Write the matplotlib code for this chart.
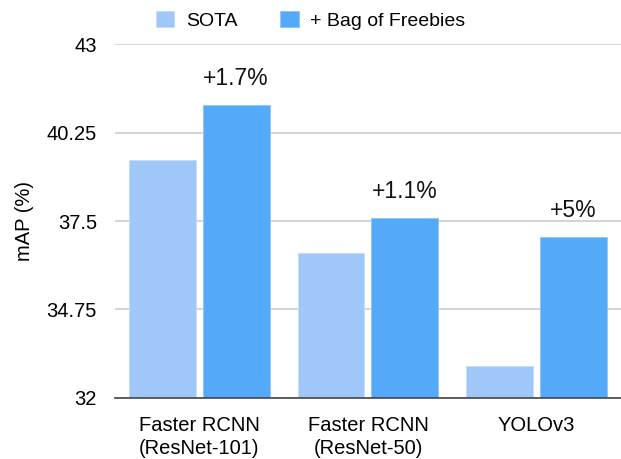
import matplotlib.pyplot as plt
import numpy as np

# Data
models = ["Faster RCNN\n(ResNet-101)", "Faster RCNN\n(ResNet-50)", "YOLOv3"]
sota = [39.4, 36.5, 33.0]
bof = [41.1, 37.6, 37.0]
gains = ["+1.7%", "+1.1%", "+5%"]
yticks = [32, 34.75, 37.5, 40.25, 43]

plt.rcParams['font.family'] = ['Liberation Sans', 'DejaVu Sans']

fig = plt.figure(figsize=(6.21, 4.59), dpi=100)
ax = fig.add_axes([0.185, 0.133, 0.815, 0.771])

x = np.arange(len(models))
w = 0.396
off = 0.219
ax.bar(x - off, np.array(sota) - 32, w, bottom=32, color='#9fc8f9',
       edgecolor='#c4ddfb', linewidth=0.6, label='SOTA', zorder=3)
ax.bar(x + off, np.array(bof) - 32, w, bottom=32, color='#55a9f9',
       edgecolor='#8cc4fb', linewidth=0.6, label='+ Bag of Freebies', zorder=3)

for xi, val, txt in zip(x, bof, gains):
    ax.annotate(txt, (xi + off, val), xytext=(0, 11), textcoords='offset points',
                ha='center', va='bottom', fontsize=16.5, color='#111111')

ax.set_xlim(-0.5, 2.5)
ax.set_ylim(32, 43)
ax.set_yticks(yticks)
ax.set_yticklabels(["32", "34.75", "37.5", "40.25", "43"])
ax.set_xticks(x)
ax.set_xticklabels(models, fontsize=14.5, linespacing=1.25)
ax.tick_params(axis='y', length=0, pad=13, labelsize=14.5)
ax.tick_params(axis='x', length=0, pad=13)
ax.grid(axis='y', color='#cccccc', linewidth=1.2, zorder=0)
for s in ['top', 'right', 'left']:
    ax.spines[s].set_visible(False)
ax.spines['bottom'].set_color('#444444')
ax.spines['bottom'].set_linewidth(1.2)
ax.spines['bottom'].set_zorder(4)

ax.set_ylabel('mAP (%)', fontsize=14.5, labelpad=9)

fig.legend(loc='upper center', bbox_to_anchor=(0.5, 1.015), ncol=2, frameon=False,
           fontsize=14, handlelength=0.95, handleheight=0.95, columnspacing=2.2,
           handletextpad=0.6)

fig.savefig('out.png', dpi=100)
